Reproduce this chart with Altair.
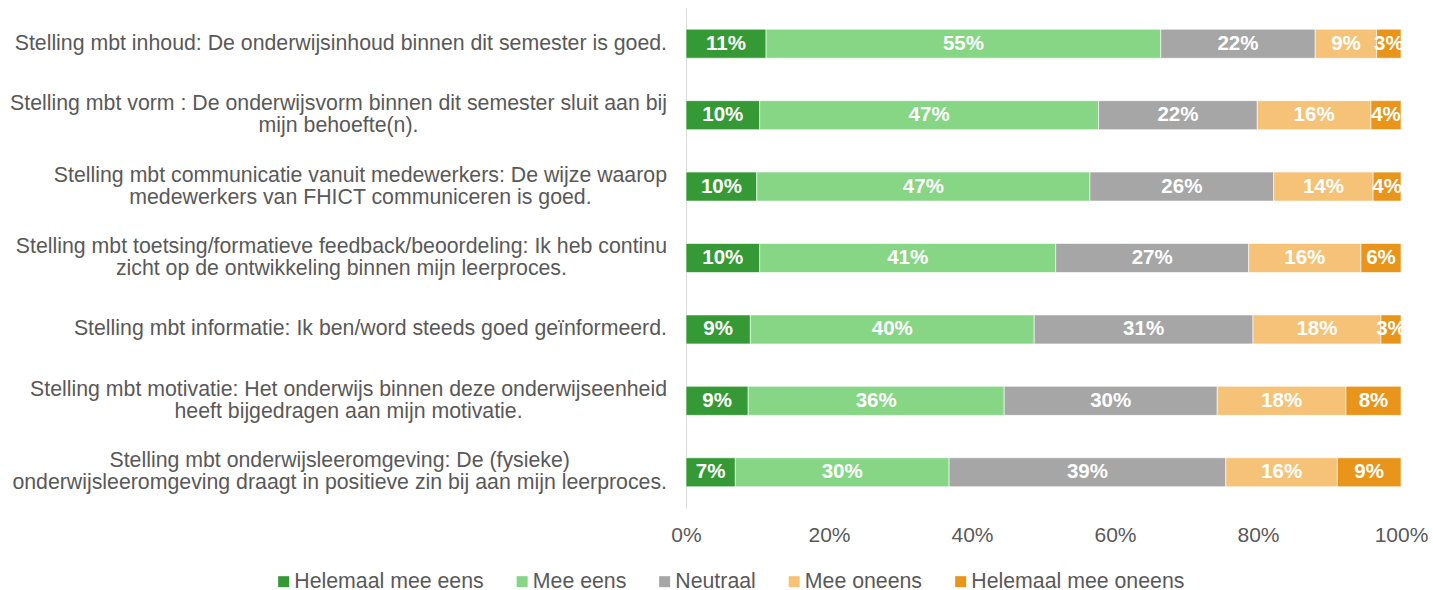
import altair as alt
import pandas as pd

# ---- data -------------------------------------------------------------
statements = [
    "Stelling mbt inhoud: De onderwijsinhoud binnen dit semester is goed.",
    "Stelling mbt vorm : De onderwijsvorm binnen dit semester sluit aan bij|mijn behoefte(n).",
    "Stelling mbt communicatie vanuit medewerkers: De wijze waarop|medewerkers van FHICT communiceren is goed.",
    "Stelling mbt toetsing/formatieve feedback/beoordeling: Ik heb continu|zicht op de ontwikkeling binnen mijn leerproces.",
    "Stelling mbt informatie: Ik ben/word steeds goed geïnformeerd.",
    "Stelling mbt motivatie: Het onderwijs binnen deze onderwijseenheid|heeft bijgedragen aan mijn motivatie.",
    "Stelling mbt onderwijsleeromgeving: De (fysieke)|onderwijsleeromgeving draagt in positieve zin bij aan mijn leerproces.",
]

series = ["Helemaal mee eens", "Mee eens", "Neutraal", "Mee oneens", "Helemaal mee oneens"]
colors = ["#359A35", "#86D686", "#A6A6A6", "#F6C277", "#E9941A"]

helemaal_mee_eens   = [11.2, 10.3, 9.9, 10.3, 9.0, 8.7, 6.9]
mee_eens            = [55.2, 47.4, 46.6, 41.4, 39.7, 35.8, 29.9]
neutraal            = [21.6, 22.2, 25.7, 27.0, 30.6, 29.8, 38.7]
mee_oneens          = [8.6, 15.9, 13.9, 15.7, 17.9, 18.0, 15.6]
helemaal_mee_oneens = [3.4, 4.2, 3.9, 5.6, 2.8, 7.7, 8.9]

values = [helemaal_mee_eens, mee_eens, neutraal, mee_oneens, helemaal_mee_oneens]

x_ticks = [0, 0.2, 0.4, 0.6, 0.8, 1.0]

FONT = "Liberation Sans"
GREY_TEXT = "#595959"
LABEL_SIZE = 21.3
LINE_H = 22

rows = []
for si, name in enumerate(series):
    for ci, cat in enumerate(statements):
        rows.append({"cat": cat, "series": name, "order": si, "value": values[si][ci]})
df = pd.DataFrame(rows)

# Arial / Liberation Sans advance widths (1/1000 em) for centring multi-line labels
_W = {" ": 278, "(": 333, ")": 333, ".": 278, "/": 278, ":": 278, ",": 278,
      "A": 667, "B": 667, "C": 722, "D": 722, "E": 667, "F": 611, "G": 778, "H": 722,
      "I": 278, "J": 500, "K": 667, "L": 556, "M": 833, "N": 722, "O": 778, "P": 667,
      "Q": 778, "R": 722, "S": 667, "T": 611, "U": 722, "V": 667, "W": 944, "X": 667,
      "Y": 667, "Z": 611,
      "a": 556, "b": 556, "c": 500, "d": 556, "e": 556, "f": 278, "g": 556, "h": 556,
      "i": 222, "j": 222, "k": 500, "l": 222, "m": 833, "n": 556, "o": 556, "p": 556,
      "q": 556, "r": 333, "s": 500, "t": 278, "u": 556, "v": 500, "w": 722, "x": 500,
      "y": 500, "z": 500, "ï": 278, "ë": 556}


def text_width(s, size):
    return sum(_W.get(ch, 556) for ch in s) / 1000.0 * size


LABEL_GAP = 19
ylab = pd.DataFrame({
    "cat": statements,
    "xoff": [-LABEL_GAP - max(text_width(l, LABEL_SIZE) for l in s.split("|")) / 2 for s in statements],
    "nlines": [len(s.split("|")) for s in statements],
})

y_enc = alt.Y("cat:N", sort=statements,
              scale=alt.Scale(paddingInner=0, paddingOuter=0),
              axis=alt.Axis(labels=False, ticks=False, title=None, grid=False,
                            domainColor="#D9D9D9", domainWidth=1))

base = alt.Chart(df).transform_stack(
    stack="value", groupby=["cat"], as_=["x0", "x1"], offset="normalize",
    sort=[alt.SortField("order", order="ascending")],
).transform_calculate(
    xm="(datum.x0 + datum.x1) / 2",
    label="format(datum.value, '.0f') + '%'",
)

bars = base.mark_bar(size=29, stroke="white", strokeWidth=0.6).encode(
    x=alt.X("x0:Q", scale=alt.Scale(domain=[0, 1], nice=False),
            axis=alt.Axis(values=x_ticks, format=".0%", grid=False, domain=False, ticks=False,
                          labelPadding=16, labelFontSize=21, labelColor=GREY_TEXT,
                          labelFont=FONT, labelFlush=False, title=None)),
    x2="x1:Q",
    y=y_enc,
    color=alt.Color("series:N", scale=alt.Scale(domain=series, range=colors),
                    legend=alt.Legend(orient="none", legendX=-413, legendY=563,
                                      direction="horizontal", columns=5, title=None,
                                      symbolType="square", symbolSize=121,
                                      symbolStrokeWidth=0, labelFontSize=21.3,
                                      labelFont=FONT, labelColor=GREY_TEXT, labelLimit=400,
                                      columnPadding=27.5, labelOffset=0, padding=0)),
)

bar_labels = base.mark_text(color="white", font=FONT, fontWeight="bold", fontSize=20.5,
                            align="center", baseline="middle").encode(
    x="xm:Q",
    y=y_enc,
    text="label:N",
)


def cat_layer(n):
    return alt.Chart(ylab).transform_filter(f"datum.nlines == {n}").mark_text(
        font=FONT, fontSize=LABEL_SIZE, color=GREY_TEXT, align="center", baseline="middle",
        lineBreak="|", lineHeight=LINE_H, dy=-(n - 1) * LINE_H / 2,
    ).encode(
        x=alt.X("xoff:Q", scale=None),
        y=y_enc,
        text="cat:N",
    )


chart = alt.layer(bars, bar_labels, cat_layer(1), cat_layer(2)).properties(
    width=715, height=500,
    padding={"left": 686, "top": 8, "right": 32, "bottom": 82},
    autosize=alt.AutoSizeParams(type="none"),
    background="white",
).configure_view(stroke=None)

chart.save("out.html", embed_options={"renderer": "svg", "actions": False})
